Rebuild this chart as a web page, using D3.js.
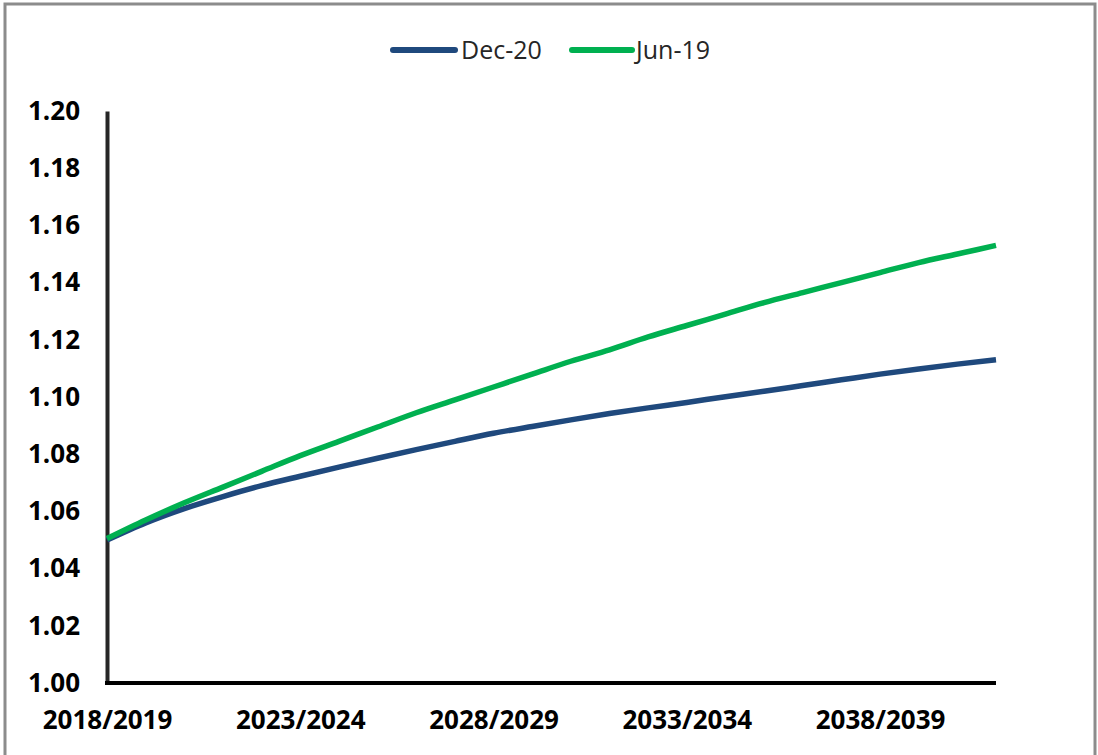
<!DOCTYPE html>
<html><head><meta charset="utf-8">
<script src="https://cdn.jsdelivr.net/npm/d3@7"></script>
<style>html,body{margin:0;padding:0;background:#fff;}svg{display:block;}</style>
</head><body>
<svg id="chart" width="1098" height="755"></svg>
<script>
const categories = ["2018/2019","2019/2020","2020/2021","2021/2022","2022/2023","2023/2024","2024/2025","2025/2026","2026/2027","2027/2028","2028/2029","2029/2030","2030/2031","2031/2032","2032/2033","2033/2034","2034/2035","2035/2036","2036/2037","2037/2038","2038/2039","2039/2040","2040/2041","2041/2042"];
const dec20 = [1.050,1.056,1.061,1.0652,1.069,1.0723,1.0755,1.0786,1.0816,1.0845,1.0873,1.0897,1.092,1.0942,1.0962,1.0981,1.1001,1.102,1.104,1.106,1.108,1.1098,1.1115,1.113];
const jun19 = [1.0505,1.057,1.063,1.0685,1.074,1.0795,1.0845,1.0895,1.0945,1.099,1.1035,1.108,1.1125,1.1165,1.121,1.125,1.129,1.133,1.1365,1.140,1.1435,1.147,1.150,1.153];
const yTicks = [1.00,1.02,1.04,1.06,1.08,1.10,1.12,1.14,1.16,1.18,1.20];
const xTickLabels = ["2018/2019","2023/2024","2028/2029","2033/2034","2038/2039"];
const seriesNames = ["Dec-20","Jun-19"];
const seriesColors = ["#1F497D","#00B050"];

const svg = d3.select("#chart");
svg.append("rect").attr("x",5).attr("y",4).attr("width",1090).attr("height",760)
  .attr("fill","#fff").attr("stroke","#8c8c8c").attr("stroke-width",3);

const x = d3.scalePoint().domain(categories).range([107,996]).padding(0);
const y = d3.scaleLinear().domain([1.0,1.2]).range([683,111]);

const series = [dec20, jun19];
const line = d3.line().x((d,i)=>x(categories[i])).y(d=>y(d)).curve(d3.curveMonotoneX);

// y axis
const yAxis = d3.axisLeft(y).tickValues(yTicks).tickFormat(d3.format(".2f")).tickSize(0).tickPadding(27);
const gy = svg.append("g").attr("transform","translate(107,0)").call(yAxis);
gy.select(".domain").attr("stroke","#262626").attr("stroke-width",4);
gy.selectAll("text").attr("font-family","Open Sans").attr("font-weight","700").attr("font-size","26px").attr("fill","#000");

// x axis
const xAxis = d3.axisBottom(x).tickValues(xTickLabels).tickSize(0).tickPadding(28);
const gx = svg.append("g").attr("transform","translate(0,683)").call(xAxis);
gx.select(".domain").attr("stroke","#000").attr("stroke-width",4).attr("d","M105,0H996");
gx.selectAll("text").attr("font-family","Open Sans").attr("font-weight","700").attr("font-size","26px").attr("fill","#000");

// lines
series.forEach((s,k)=>{
  svg.append("path").datum(s).attr("d",line).attr("fill","none")
    .attr("stroke",seriesColors[k]).attr("stroke-width",5.5).attr("stroke-linejoin","round");
});

// legend
const legendItems = [{x0:393,x1:455,tx:461},{x0:572,x1:632,tx:636}];
legendItems.forEach((L,k)=>{
  svg.append("line").attr("x1",L.x0).attr("x2",L.x1).attr("y1",50).attr("y2",50)
    .attr("stroke",seriesColors[k]).attr("stroke-width",6).attr("stroke-linecap","round");
  svg.append("text").attr("x",L.tx).attr("y",59).text(seriesNames[k])
    .attr("font-family","Open Sans").attr("font-size","25px").attr("fill","#262626");
});
</script>
</body></html>
